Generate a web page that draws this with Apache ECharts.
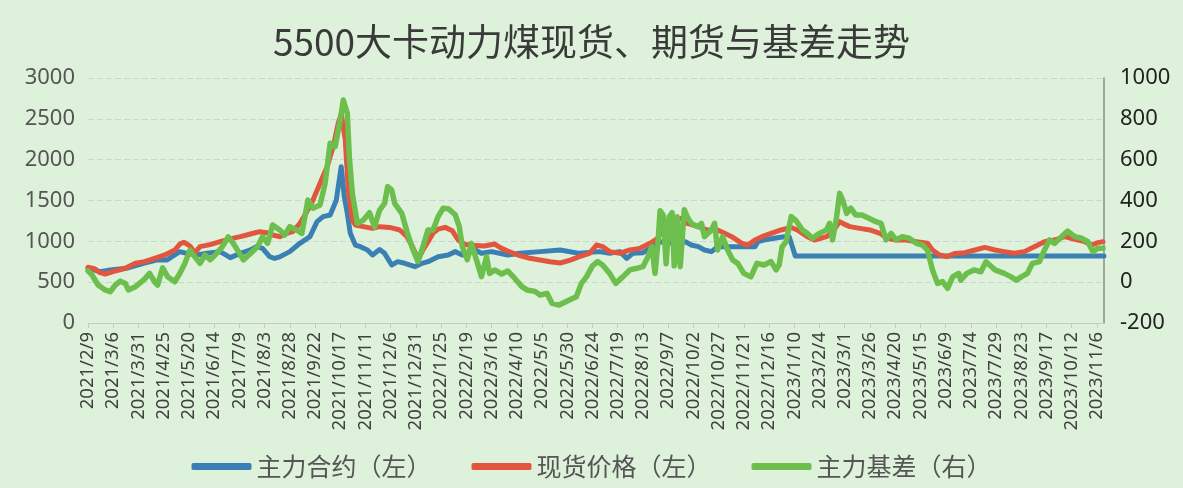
<!DOCTYPE html>
<html>
<head>
<meta charset="utf-8">
<script src="https://cdn.jsdelivr.net/npm/echarts@6/dist/echarts.min.js"></script>
<style>
html,body{margin:0;padding:0;background:#def2db;}
#chart{width:1183px;height:488px;}
</style>
</head>
<body>
<div id="chart"></div>
<script>
// x values are days counted from 2021/2/9
const tickLabels = ['2021/2/9','2021/3/6','2021/3/31','2021/4/25','2021/5/20','2021/6/14','2021/7/9','2021/8/3','2021/8/28','2021/9/22','2021/10/17','2021/11/11','2021/12/6','2021/12/31','2022/1/25','2022/2/19','2022/3/16','2022/4/10','2022/5/5','2022/5/30','2022/6/24','2022/7/19','2022/8/13','2022/9/7','2022/10/2','2022/10/27','2022/11/21','2022/12/16','2023/1/10','2023/2/4','2023/3/1','2023/3/26','2023/4/20','2023/5/15','2023/6/9','2023/7/4','2023/7/29','2023/8/23','2023/9/17','2023/10/12','2023/11/6'];
const seriesNames = ['主力合约（左）','现货价格（左）','主力基差（右）'];

const futuresDays = [0,12,22,38,55,68,78,91,98,108,118,131,141,151,161,167,173,180,185,190,200,210,220,227,233,240,246,251,254,257,260,265,270,277,282,289,294,301,307,314,324,331,337,347,357,364,371,377,384,390,400,416,428,448,468,487,507,517,527,534,540,550,560,567,574,592,598,605,611,618,624,661,664,670,680,690,695,698,701,1007];
const futuresValues = [670,628,649,670,731,771,771,873,853,833,853,873,800,853,894,935,914,812,790,810,874,976,1057,1241,1302,1322,1500,1914,1547,1343,1098,955,935,894,833,900,853,710,751,731,690,731,751,812,833,874,833,853,894,853,874,833,853,874,894,853,874,853,874,792,853,861,935,996,976,996,955,935,894,874,935,935,996,1016,1037,1057,1057,940,820,820];

const spotDays = [0,7,12,17,27,37,47,56,66,76,86,91,95,101,106,111,121,131,141,151,161,170,177,183,190,197,203,210,217,223,230,237,243,248,251,255,258,262,265,273,282,289,299,309,316,321,324,327,332,337,342,347,354,361,367,374,384,393,403,410,416,426,438,448,458,468,478,487,497,504,510,517,527,537,547,557,564,570,577,583,588,594,605,614,624,631,638,648,654,661,668,677,687,697,703,713,720,732,738,745,748,755,765,775,785,792,801,811,821,832,837,844,851,859,869,879,889,899,908,918,928,938,948,958,968,978,988,995,1001,1006];
const spotValues = [682,661,616,600,637,670,731,751,792,833,894,967,990,943,860,935,960,996,1030,1057,1090,1118,1106,1078,1057,1098,1118,1220,1363,1506,1710,1914,2159,2445,2560,2241,1629,1261,1200,1180,1159,1180,1170,1139,1060,950,870,770,894,996,1100,1150,1171,1130,1016,960,950,943,967,914,880,833,792,771,751,735,771,812,853,955,935,874,853,894,914,976,1030,1139,1180,1260,1282,1220,1180,1139,1139,1098,1057,976,955,1016,1057,1098,1139,1170,1139,1057,1016,1057,1118,1241,1220,1180,1159,1139,1098,1037,1016,1016,996,976,894,833,812,850,861,894,926,894,874,853,874,935,996,1016,1057,1024,996,955,984,996];

const basisDays = [0,4,10,17,22,27,32,37,40,47,52,56,61,66,69,74,79,86,91,96,101,106,111,116,121,126,133,139,144,148,154,161,168,173,178,183,190,195,200,207,212,218,223,230,235,240,245,250,253,257,259,262,267,273,279,284,289,294,297,301,304,311,316,321,327,332,337,342,347,352,357,364,368,371,376,380,385,390,395,398,403,410,416,423,430,435,443,448,455,460,467,477,484,489,494,500,505,510,517,523,530,537,544,550,555,559,562,565,567,570,573,576,579,581,584,587,591,594,598,604,608,611,618,621,624,629,634,639,644,650,657,663,670,677,682,685,688,692,697,702,708,713,718,725,732,735,738,742,745,748,752,756,761,767,774,781,786,791,796,801,807,814,821,827,832,837,842,847,852,857,863,865,871,878,885,890,899,908,915,920,925,931,936,943,948,953,958,965,971,978,985,991,996,1001,1006];
const basisValues = [55,35,-14,-38,-47,-14,5,-6,-38,-22,-2,15,43,2,-14,70,26,2,43,92,157,124,92,133,110,133,173,222,190,158,109,141,174,223,190,280,256,231,272,256,239,402,362,378,484,680,664,794,892,827,615,435,288,304,340,270,353,386,468,451,386,337,250,174,100,174,256,256,321,362,360,330,272,174,110,190,109,27,125,43,60,40,55,18,-22,-38,-45,-63,-55,-104,-112,-87,-71,-6,26,80,101,84,43,-6,26,60,68,76,125,174,43,200,350,330,90,320,340,80,320,76,355,320,288,272,288,223,256,288,158,223,158,109,92,43,26,92,84,101,60,84,174,198,321,300,256,239,215,239,256,288,207,321,435,402,337,362,329,329,313,296,288,207,239,207,223,215,190,182,158,60,-6,3,-30,26,43,10,43,60,51,100,60,43,26,10,26,43,92,101,158,207,190,223,250,223,215,198,149,166,166];

function pairs(xs, ys){ return xs.map((x,i)=>[x, ys[i]]); }

const chart = echarts.init(document.getElementById('chart'));
const font = "'Noto Sans CJK SC', 'Noto Sans', sans-serif";
chart.setOption({
  backgroundColor: '#def2db',
  animation: false,
  title: {
    text: '5500大卡动力煤现货、期货与基差走势',
    left: 'center', top: 18,
    textStyle: { fontSize: 37, fontWeight: 'normal', color: '#3a3a3a', fontFamily: font }
  },
  legend: {
    bottom: 4, left: 'center',
    itemWidth: 60, itemHeight: 7, itemGap: 40,
    icon: 'roundRect',
    textStyle: { fontSize: 25, color: '#555', fontFamily: font },
    data: seriesNames
  },
  grid: { left: 88, right: 79, top: 78, bottom: 165, containLabel: false },
  xAxis: {
    type: 'value', min: 0, max: 1007, interval: 25,
    axisLine: { show: true, lineStyle: { color: '#c8c8c8', width: 1 } },
    axisTick: { show: true, length: 5, lineStyle: { color: '#c8c8c8' } },
    splitLine: { show: false },
    axisLabel: {
      rotate: 90, fontSize: 18.5, color: '#404040', margin: 9, fontFamily: "'Noto Sans', sans-serif",
      showMaxLabel: false,
      formatter: function(v){ const i = Math.round(v/25); return (v % 25 === 0 && tickLabels[i]) ? tickLabels[i] : ''; }
    }
  },
  yAxis: [
    {
      type: 'value', min: 0, max: 3000, interval: 500, position: 'left',
      axisLine: { show: false }, axisTick: { show: false },
      splitLine: { show: true, lineStyle: { color: '#cfd3d6', width: 1, type: [6,3] } },
      axisLabel: { fontSize: 22, color: '#555', margin: 13, fontFamily: "'Noto Sans', sans-serif", formatter: v => String(v) }
    },
    {
      type: 'value', min: -200, max: 1000, interval: 200, position: 'right',
      axisLine: { show: true, lineStyle: { color: '#8c8c8c', width: 1.5 } }, axisTick: { show: false },
      splitLine: { show: false },
      axisLabel: { fontSize: 22, color: '#222', margin: 16, fontFamily: "'Noto Sans', sans-serif", formatter: v => String(v) }
    }
  ],
  series: [
    { name: seriesNames[0], type: 'line', yAxisIndex: 0, symbol: 'none', data: pairs(futuresDays, futuresValues),
      itemStyle: { color: '#3a80b4' }, lineStyle: { width: 5, color: '#3a80b4', join: 'round', cap: 'round' } },
    { name: seriesNames[1], type: 'line', yAxisIndex: 0, symbol: 'none', data: pairs(spotDays, spotValues),
      itemStyle: { color: '#e2553f' }, lineStyle: { width: 5, color: '#e2553f', join: 'round', cap: 'round' } },
    { name: seriesNames[2], type: 'line', yAxisIndex: 1, symbol: 'none', data: pairs(basisDays, basisValues),
      itemStyle: { color: '#6cbf4c' }, lineStyle: { width: 5.5, color: '#6cbf4c', join: 'round', cap: 'round' } }
  ]
});
</script>
</body>
</html>
